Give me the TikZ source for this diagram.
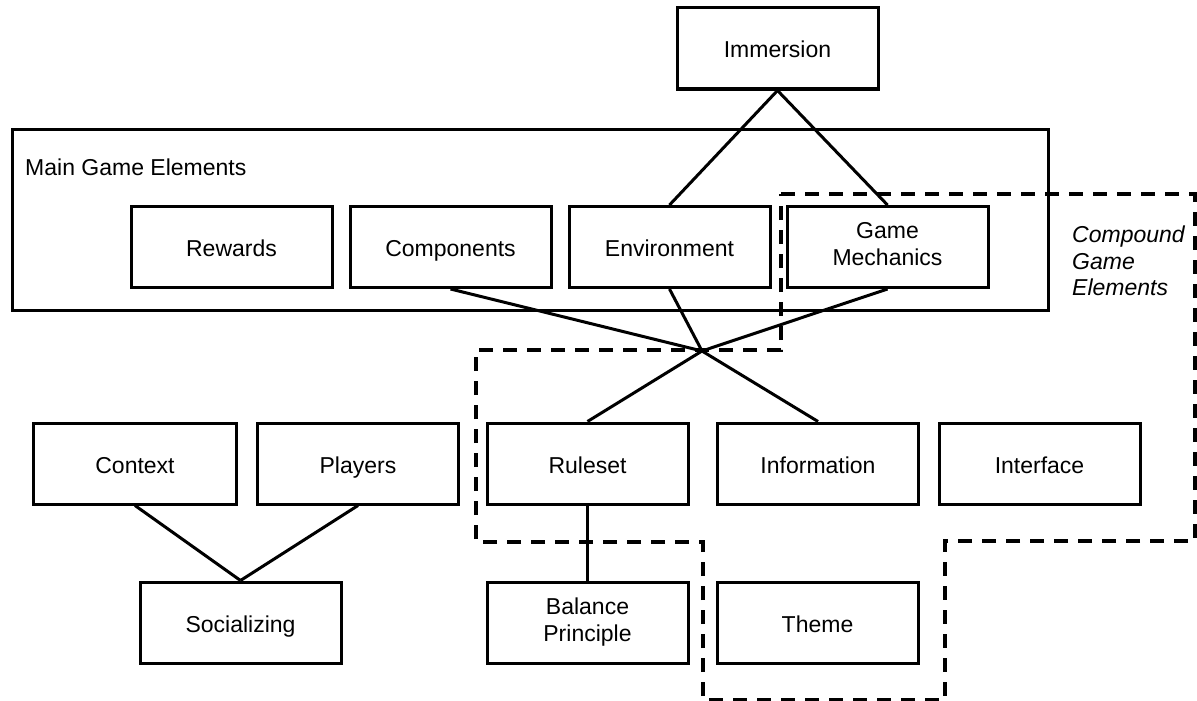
\documentclass[tikz,border=0pt]{standalone}
\usepackage{fontspec}
\setmainfont{Liberation Sans}
\begin{document}
\begin{tikzpicture}[x=1pt,y=-1pt,
  box/.style={draw, line width=3pt, minimum width=201pt, minimum height=81pt, inner sep=0pt, align=center, font=\fontsize{23}{27}\selectfont,
    execute at begin node={\rule{0pt}{25pt}}, execute at end node={\rule[-6pt]{0pt}{6pt}}},
  conn/.style={line width=3pt},
  region/.style={line width=3.5pt, dash pattern=on 14pt off 10pt},
  lbl/.style={inner sep=0pt, font=\fontsize{23}{27}\selectfont}]
\useasboundingbox (0,0) rectangle (1197,701);
% main group
\node (main) [draw, line width=3pt, minimum width=1036pt, minimum height=181pt, inner sep=0pt] at (530,219.5) {};
\node (mainlbl) [lbl, anchor=base west] at (25,175) {Main Game Elements};
% compound region
\draw[region] (781,194) -- (1195,194) -- (1195,541) -- (945,541) -- (945,700) -- (703,700) -- (703,542) -- (476,542) -- (476,350) -- (781,350) -- cycle;
\node (complbl) [lbl, anchor=west, align=left, font=\fontsize{23}{26.5}\selectfont\itshape] at (1072,261) {Compound\\Game\\Elements};
% nodes
\node (imm) [box] at (777.5,48.5) {Immersion};
\node (rew) [box, fill=white] at (231.5,247) {Rewards};
\node (comp) [box, fill=white] at (450.5,247) {Components};
\node (env) [box, fill=white] at (669.5,247) {Environment};
\node (gm) [box, fill=white] at (887.5,247) {Game\\Mechanics};
\node (ctx) [box, minimum width=203pt] at (135,463.5) {Context};
\node (play) [box] at (358,463.5) {Players};
\node (rule) [box] at (587.5,463.5) {Ruleset};
\node (info) [box] at (818,463.5) {Information};
\node (intf) [box] at (1039.5,463.5) {Interface};
\node (soc) [box] at (240.5,622.5) {Socializing};
\node (bal) [box] at (587.5,623) {Balance\\Principle};
\node (theme) [box] at (817.5,622.5) {Theme};
% connectors
\coordinate (hub) at (702,351);
\draw[conn] (imm.south) -- (env.north);
\draw[conn] (imm.south) -- (gm.north);
\draw[conn] (comp.south) -- (hub);
\draw[conn] (env.south) -- (hub);
\draw[conn] (gm.south) -- (hub);
\draw[conn] (hub) -- (rule.north);
\draw[conn] (hub) -- (info.north);
\draw[conn] (ctx.south) -- (soc.north);
\draw[conn] (play.south) -- (soc.north);
\draw[conn] (rule.south) -- (bal.north);
\end{tikzpicture}
\end{document}
